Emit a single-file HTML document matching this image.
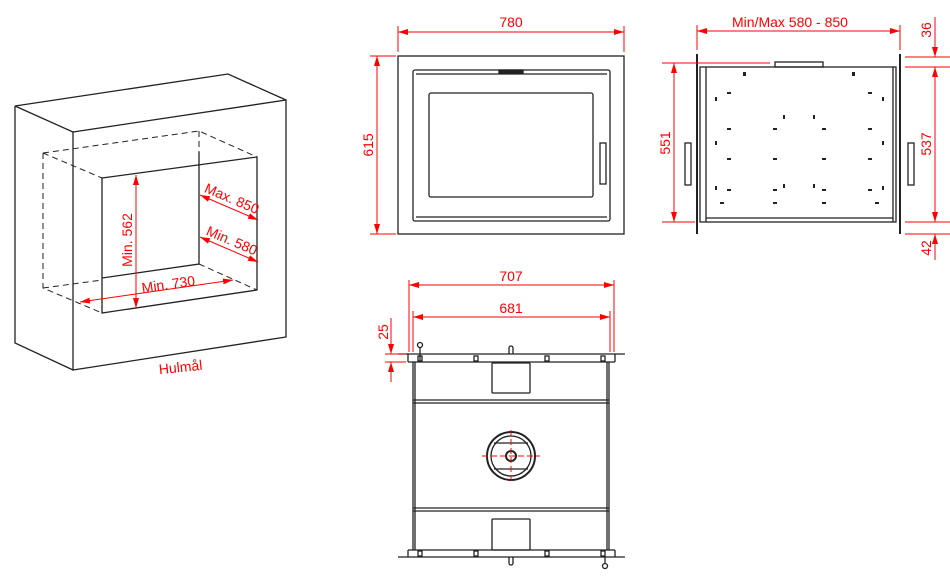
<!DOCTYPE html>
<html><head><meta charset="utf-8"><style>
html,body{margin:0;padding:0;background:#fff}
svg{display:block}
text{font-family:"Liberation Sans",sans-serif;fill:#f00;font-size:14px}
.k{stroke:#222;fill:none;stroke-width:1.3}
.d{stroke:#222;fill:none;stroke-width:1;stroke-dasharray:6,4}
.r{stroke:#f00;fill:none;stroke-width:1}
</style></head><body>
<svg width="950" height="578" viewBox="0 0 950 578" xmlns="http://www.w3.org/2000/svg">
<defs>
<marker id="a" viewBox="0 0 10 6" refX="10" refY="3" markerWidth="10" markerHeight="6" orient="auto-start-reverse" markerUnits="userSpaceOnUse"><path d="M0,0L10,3L0,6z" fill="#f00"/></marker>
</defs>
<!-- Iso box -->
<g class="k">
<path d="M73,132L286,100L286,337L73,370Z"/>
<path d="M15,106L228,74L286,100M15,106L73,132M15,106L15,343L73,370"/>
<path d="M102,178L257,157L257,290L102,313Z"/>
<path d="M199,152L199,264L102,278"/>
</g>
<g class="d">
<path d="M43,153L199,131L257,157M43,153L102,178M43,153L43,288L102,313M43,288L102,280M199,264L257,290M199,131L199,152"/>
</g>
<g class="r">
<line x1="136" y1="175" x2="136" y2="308" marker-start="url(#a)" marker-end="url(#a)"/>
<line x1="80" y1="302" x2="233" y2="280" marker-start="url(#a)" marker-end="url(#a)"/>
<line x1="200" y1="195" x2="258" y2="220" marker-start="url(#a)" marker-end="url(#a)"/>
<line x1="200" y1="237" x2="258" y2="262" marker-start="url(#a)" marker-end="url(#a)"/>
</g>
<text transform="translate(132,240) rotate(-90)" text-anchor="middle">Min. 562</text>
<text transform="translate(169,289) rotate(-8)" text-anchor="middle">Min. 730</text>
<text transform="translate(230,203) rotate(23)" text-anchor="middle">Max. 850</text>
<text transform="translate(230,245) rotate(23)" text-anchor="middle">Min. 580</text>
<text transform="translate(181,372) rotate(-6)" text-anchor="middle">Hulmål</text>

<!-- Front view -->
<g class="k">
<rect x="398" y="56" width="226" height="178"/>
<rect x="413" y="70" width="197" height="151" rx="2"/>
<line x1="416" y1="74" x2="607" y2="74"/>
<line x1="416" y1="217" x2="607" y2="217"/>
<rect x="429" y="93" width="164" height="104" rx="2"/>
<rect x="600" y="143" width="6" height="41"/>
<rect x="499" y="70" width="24" height="3" fill="#222"/>
</g>
<g class="r">
<line x1="398" y1="26" x2="398" y2="52"/><line x1="624" y1="26" x2="624" y2="52"/>
<line x1="398" y1="32" x2="624" y2="32" marker-start="url(#a)" marker-end="url(#a)"/>
<line x1="370" y1="56" x2="396" y2="56"/><line x1="370" y1="234" x2="396" y2="234"/>
<line x1="377" y1="56" x2="377" y2="234" marker-start="url(#a)" marker-end="url(#a)"/>
</g>
<text x="511" y="27" text-anchor="middle">780</text>
<text transform="translate(373,145) rotate(-90)" text-anchor="middle">615</text>

<!-- Side view -->
<g class="k">
<line x1="697" y1="54" x2="697" y2="234" stroke-width="2"/>
<line x1="900" y1="54" x2="900" y2="234" stroke-width="2"/>
<rect x="700" y="67" width="196" height="155"/>
<line x1="706" y1="67" x2="706" y2="222"/><line x1="893" y1="67" x2="893" y2="222"/>
<line x1="706" y1="218" x2="893" y2="218"/>
<rect x="775" y="62" width="48" height="5"/>
<rect x="685" y="143" width="6" height="42"/>
<rect x="908" y="143" width="6" height="42"/>
</g>
<g fill="#222">
<rect x="743" y="72" width="3" height="4"/><rect x="852" y="72" width="3" height="4"/>
<rect x="727" y="92" width="4" height="2"/><rect x="868" y="92" width="4" height="2"/>
<rect x="715" y="97" width="2" height="4"/><rect x="882" y="97" width="2" height="4"/>
<rect x="783" y="115" width="2" height="4"/><rect x="813" y="115" width="2" height="4"/>
<rect x="727" y="128" width="4" height="2"/><rect x="773" y="128" width="4" height="2"/><rect x="822" y="128" width="4" height="2"/><rect x="868" y="128" width="4" height="2"/>
<rect x="715" y="141" width="2" height="4"/><rect x="882" y="141" width="2" height="4"/>
<rect x="727" y="158" width="4" height="2"/><rect x="773" y="158" width="4" height="2"/><rect x="822" y="158" width="4" height="2"/><rect x="868" y="158" width="4" height="2"/>
<rect x="783" y="184" width="2" height="4"/><rect x="813" y="184" width="2" height="4"/>
<rect x="715" y="186" width="2" height="4"/><rect x="882" y="186" width="2" height="4"/>
<rect x="727" y="189" width="4" height="2"/><rect x="773" y="189" width="4" height="2"/><rect x="822" y="189" width="4" height="2"/><rect x="868" y="189" width="4" height="2"/>
<rect x="720" y="202" width="4" height="2"/><rect x="773" y="202" width="4" height="2"/><rect x="822" y="202" width="4" height="2"/><rect x="875" y="202" width="4" height="2"/>
</g>
<g class="r">
<line x1="697" y1="25" x2="697" y2="50"/><line x1="900" y1="25" x2="900" y2="50"/>
<line x1="697" y1="31" x2="900" y2="31" marker-start="url(#a)" marker-end="url(#a)"/>
<line x1="662" y1="63" x2="770" y2="63"/><line x1="662" y1="222" x2="695" y2="222"/>
<line x1="674" y1="63" x2="674" y2="222" marker-start="url(#a)" marker-end="url(#a)"/>
<line x1="905" y1="57" x2="950" y2="57"/><line x1="905" y1="67" x2="950" y2="67"/>
<line x1="905" y1="222" x2="950" y2="222"/><line x1="905" y1="234" x2="950" y2="234"/>
<line x1="935" y1="67" x2="935" y2="222" marker-start="url(#a)" marker-end="url(#a)"/>
<line x1="935" y1="17" x2="935" y2="57" marker-end="url(#a)"/>
<line x1="935" y1="260" x2="935" y2="234" marker-end="url(#a)"/>
</g>
<text x="790" y="27" text-anchor="middle">Min/Max 580 - 850</text>
<text transform="translate(670,143) rotate(-90)" text-anchor="middle">551</text>
<text transform="translate(931,144) rotate(-90)" text-anchor="middle">537</text>
<text transform="translate(931,30) rotate(-90)" text-anchor="middle">36</text>
<text transform="translate(931,248) rotate(-90)" text-anchor="middle">42</text>

<!-- Top view -->
<g class="k">
<line x1="398" y1="354" x2="625" y2="354"/>
<line x1="408" y1="362" x2="615" y2="362"/>
<line x1="408" y1="354" x2="408" y2="362"/><line x1="615" y1="354" x2="615" y2="362"/>
<line x1="413" y1="362" x2="413" y2="550"/><line x1="609" y1="362" x2="609" y2="550"/>
<line x1="415" y1="362" x2="415" y2="550"/><line x1="607" y1="362" x2="607" y2="550"/>
<line x1="413" y1="400" x2="609" y2="400"/><line x1="413" y1="403" x2="609" y2="403"/>
<line x1="413" y1="508" x2="609" y2="508"/><line x1="413" y1="511" x2="609" y2="511"/>
<line x1="398" y1="557" x2="625" y2="557"/>
<line x1="408" y1="550" x2="615" y2="550"/>
<line x1="408" y1="550" x2="408" y2="557"/><line x1="615" y1="550" x2="615" y2="557"/>
<rect x="492" y="363" width="38" height="30" rx="1"/>
<rect x="492" y="519" width="38" height="31" rx="1"/>
<circle cx="511" cy="456" r="24" stroke-width="2"/>
<circle cx="511" cy="456" r="20"/>
<line x1="494" y1="443" x2="528" y2="443"/><line x1="494" y1="469" x2="528" y2="469"/>
<circle cx="511" cy="456" r="5" stroke-width="2"/>
<circle cx="420" cy="345" r="2.5"/><line x1="420" y1="348" x2="420" y2="362"/>
<circle cx="605" cy="566" r="2.5"/><line x1="605" y1="557" x2="605" y2="563"/>
<path d="M509,354L509,348A2,2 0 0 1 513,348L513,354"/>
<path d="M509,557L509,563A2,2 0 0 0 513,563L513,557"/>
<rect x="418" y="356" width="4" height="5"/><rect x="474" y="356" width="4" height="5"/><rect x="545" y="356" width="4" height="5"/><rect x="601" y="356" width="4" height="5"/>
<rect x="418" y="551" width="4" height="5"/><rect x="474" y="551" width="4" height="5"/><rect x="545" y="551" width="4" height="5"/><rect x="601" y="551" width="4" height="5"/>
</g>
<g class="r" stroke-dasharray="6,3">
<line x1="482" y1="456" x2="540" y2="456"/><line x1="511" y1="430" x2="511" y2="482"/>
</g>
<g class="r">
<line x1="409" y1="280" x2="409" y2="352"/><line x1="614" y1="280" x2="614" y2="352"/>
<line x1="409" y1="285" x2="614" y2="285" marker-start="url(#a)" marker-end="url(#a)"/>
<line x1="413" y1="311" x2="413" y2="352"/><line x1="610" y1="311" x2="610" y2="352"/>
<line x1="413" y1="317" x2="610" y2="317" marker-start="url(#a)" marker-end="url(#a)"/>
<line x1="385" y1="354" x2="406" y2="354"/><line x1="385" y1="362" x2="406" y2="362"/>
<line x1="391" y1="318" x2="391" y2="354" marker-end="url(#a)"/>
<line x1="391" y1="382" x2="391" y2="362" marker-end="url(#a)"/>
</g>
<text x="511" y="281" text-anchor="middle">707</text>
<text x="511" y="313" text-anchor="middle">681</text>
<text transform="translate(388,332) rotate(-90)" text-anchor="middle">25</text>
</svg>
</body></html>
